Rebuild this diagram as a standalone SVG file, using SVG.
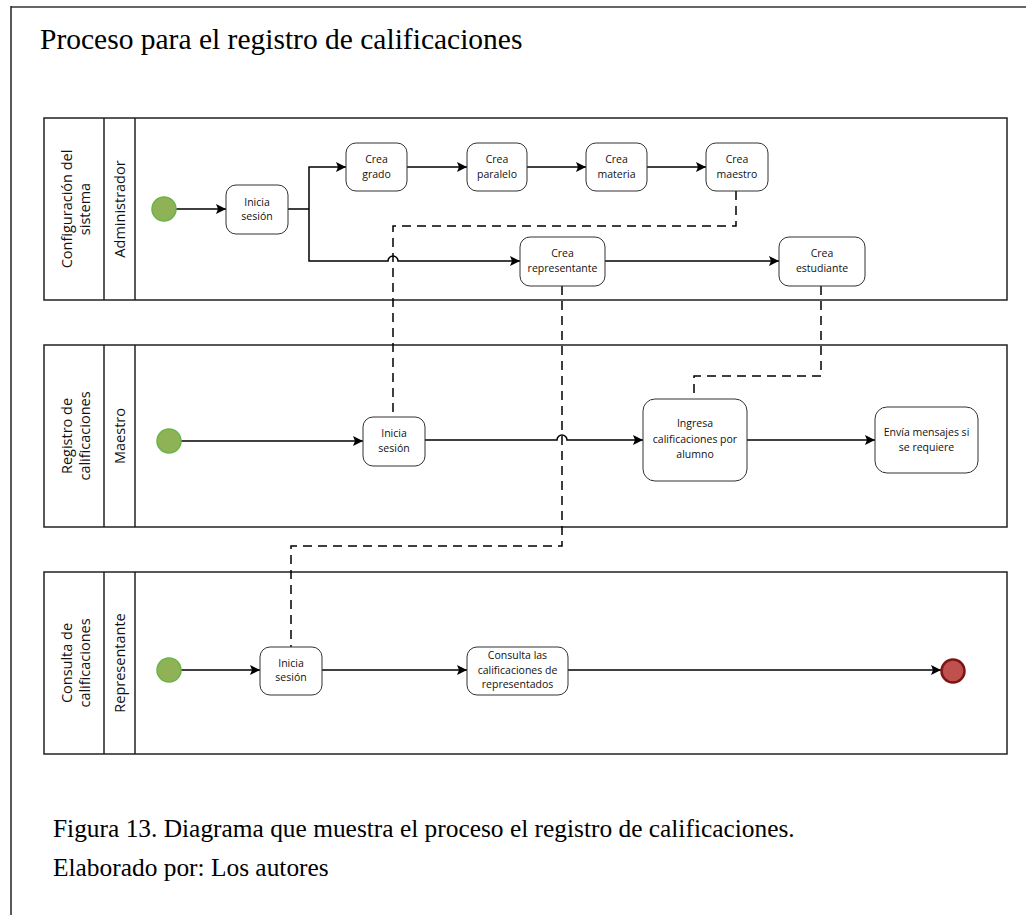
<svg xmlns="http://www.w3.org/2000/svg" width="1026" height="915" viewBox="0 0 1026 915">
  <defs>
    <marker id="arrow" viewBox="0 0 10 10" refX="10" refY="5" markerWidth="10" markerHeight="10" markerUnits="userSpaceOnUse" orient="auto">
      <path d="M0,0 L10,5 L0,10 L2,5 Z" fill="#000"/>
    </marker>
    <style>
      .frame-top { stroke: #666; stroke-width: 2; }
      .frame-left { stroke: #222; stroke-width: 1.5; }
      .lane { fill: #fff; stroke: #222; stroke-width: 1.5; }
      .node rect { fill: #fff; stroke: #333; stroke-width: 1; }
      .node text, .lbl { font-family: "Open Sans", "DejaVu Sans", sans-serif; fill: #111; text-anchor: middle; }
      .node text { font-size: 10.5px; }
      .lbl { font-size: 14.5px; }
      .start { fill: #8fb257; stroke: #67b548; stroke-width: 1.5; }
      .end { fill: #c0504d; stroke: #7d1515; stroke-width: 2.5; }
      .flow { fill: none; stroke: #000; stroke-width: 1.5; }
      .flow-arrow { marker-end: url(#arrow); }
      .assoc { fill: none; stroke: #000; stroke-width: 1.5; stroke-dasharray: 9 6; }
      .serif { font-family: "Liberation Serif", "Times New Roman", serif; fill: #000; }
    </style>
  </defs>

  <!-- page frame -->
  <line class="frame-top" x1="11" y1="7" x2="1026" y2="7"/>
  <line class="frame-left" x1="11" y1="6" x2="11" y2="915"/>

  <text class="serif" x="40" y="49" font-size="29.5">Proceso para el registro de calificaciones</text>

  <!-- swimlanes -->
  <g id="lane-configuracion">
    <rect class="lane" x="44" y="118" width="963" height="182"/>
    <line class="lane" x1="104" y1="118" x2="104" y2="300"/>
    <line class="lane" x1="135" y1="118" x2="135" y2="300"/>
    <text class="lbl" transform="translate(74,209) rotate(-90)"><tspan x="0" y="-2">Configuración del</tspan><tspan x="0" y="16">sistema</tspan></text>
    <text class="lbl" transform="translate(120,209) rotate(-90)" y="5">Administrador</text>
  </g>
  <g id="lane-registro">
    <rect class="lane" x="44" y="345" width="963" height="182"/>
    <line class="lane" x1="104" y1="345" x2="104" y2="527"/>
    <line class="lane" x1="135" y1="345" x2="135" y2="527"/>
    <text class="lbl" transform="translate(74,436) rotate(-90)"><tspan x="0" y="-2">Registro de</tspan><tspan x="0" y="16">calificaciones</tspan></text>
    <text class="lbl" transform="translate(120,436) rotate(-90)" y="5">Maestro</text>
  </g>
  <g id="lane-consulta">
    <rect class="lane" x="44" y="572" width="963" height="182"/>
    <line class="lane" x1="104" y1="572" x2="104" y2="754"/>
    <line class="lane" x1="135" y1="572" x2="135" y2="754"/>
    <text class="lbl" transform="translate(74,663) rotate(-90)"><tspan x="0" y="-2">Consulta de</tspan><tspan x="0" y="16">calificaciones</tspan></text>
    <text class="lbl" transform="translate(120,663) rotate(-90)" y="5">Representante</text>
  </g>

  <!-- connectors -->
  <g id="connectors">
    <!-- Administrador -->
    <path class="flow flow-arrow" d="M176,209 H226"/>
    <path class="flow" d="M288,209 H309"/>
    <path class="flow flow-arrow" d="M309,209 V167 H346"/>
    <path class="flow flow-arrow" d="M309,209 V261 H388 A5,5 0 0 1 398,261 H520"/>
    <path class="flow flow-arrow" d="M407,167 H467"/>
    <path class="flow flow-arrow" d="M527,167 H586"/>
    <path class="flow flow-arrow" d="M647,167 H706"/>
    <path class="flow flow-arrow" d="M605,261 H779"/>
    <!-- Maestro -->
    <path class="flow flow-arrow" d="M181,441 H363"/>
    <path class="flow flow-arrow" d="M425,440 H557 A5,5 0 0 1 567,440 H643"/>
    <path class="flow flow-arrow" d="M747,440 H875"/>
    <!-- Representante -->
    <path class="flow flow-arrow" d="M181,670 H260"/>
    <path class="flow flow-arrow" d="M322,670 H467"/>
    <path class="flow flow-arrow" d="M568,670 H941"/>
    <!-- associations between lanes -->
    <path class="assoc" d="M736,191 V226 H393 V417"/>
    <path class="assoc" d="M562,286 V546 H291 V647"/>
    <path class="assoc" d="M821,286 V376 H694 V399"/>
  </g>

  <!-- Administrador nodes -->
  <g id="start-admin"><circle class="start" cx="164" cy="209" r="12"/></g>
  <g id="admin-inicia" class="node">
    <rect x="226" y="185" width="62" height="49" rx="10"/>
    <text x="257" y="206">Inicia</text><text x="257" y="220">sesión</text>
  </g>
  <g id="crea-grado" class="node">
    <rect x="346" y="143" width="61" height="48" rx="10"/>
    <text x="376.5" y="163">Crea</text><text x="376.5" y="178">grado</text>
  </g>
  <g id="crea-paralelo" class="node">
    <rect x="467" y="143" width="60" height="48" rx="10"/>
    <text x="497" y="163">Crea</text><text x="497" y="178">paralelo</text>
  </g>
  <g id="crea-materia" class="node">
    <rect x="586" y="143" width="61" height="48" rx="10"/>
    <text x="616.5" y="163">Crea</text><text x="616.5" y="178">materia</text>
  </g>
  <g id="crea-maestro" class="node">
    <rect x="706" y="143" width="62" height="48" rx="10"/>
    <text x="737" y="163">Crea</text><text x="737" y="178">maestro</text>
  </g>
  <g id="crea-representante" class="node">
    <rect x="520" y="237" width="85" height="49" rx="10"/>
    <text x="562.5" y="257">Crea</text><text x="562.5" y="272">representante</text>
  </g>
  <g id="crea-estudiante" class="node">
    <rect x="779" y="237" width="86" height="49" rx="10"/>
    <text x="822" y="257">Crea</text><text x="822" y="272">estudiante</text>
  </g>

  <!-- Maestro nodes -->
  <g id="start-maestro"><circle class="start" cx="169" cy="441" r="12"/></g>
  <g id="maestro-inicia" class="node">
    <rect x="363" y="417" width="62" height="49" rx="10"/>
    <text x="394" y="437">Inicia</text><text x="394" y="452">sesión</text>
  </g>
  <g id="ingresa-calificaciones" class="node">
    <rect x="643" y="399" width="104" height="82" rx="12"/>
    <text x="695" y="427">Ingresa</text><text x="695" y="443">calificaciones por</text><text x="695" y="458">alumno</text>
  </g>
  <g id="envia-mensajes" class="node">
    <rect x="875" y="407" width="103" height="66" rx="12"/>
    <text x="926.5" y="436">Envía mensajes si</text><text x="926.5" y="451">se requiere</text>
  </g>

  <!-- Representante nodes -->
  <g id="start-representante"><circle class="start" cx="169" cy="670" r="12"/></g>
  <g id="representante-inicia" class="node">
    <rect x="260" y="647" width="62" height="48" rx="10"/>
    <text x="291" y="667">Inicia</text><text x="291" y="681">sesión</text>
  </g>
  <g id="consulta-calificaciones" class="node">
    <rect x="467" y="647" width="101" height="48" rx="10"/>
    <text x="517.5" y="659">Consulta las</text><text x="517.5" y="674">calificaciones de</text><text x="517.5" y="688">representados</text>
  </g>
  <g id="end-representante"><circle class="end" cx="953" cy="671" r="11.5"/></g>

  <!-- caption -->
  <text class="serif" x="53" y="837" font-size="25.4">Figura 13. Diagrama que muestra el proceso el registro de calificaciones.</text>
  <text class="serif" x="53" y="876" font-size="25.4">Elaborado por: Los autores</text>
</svg>
